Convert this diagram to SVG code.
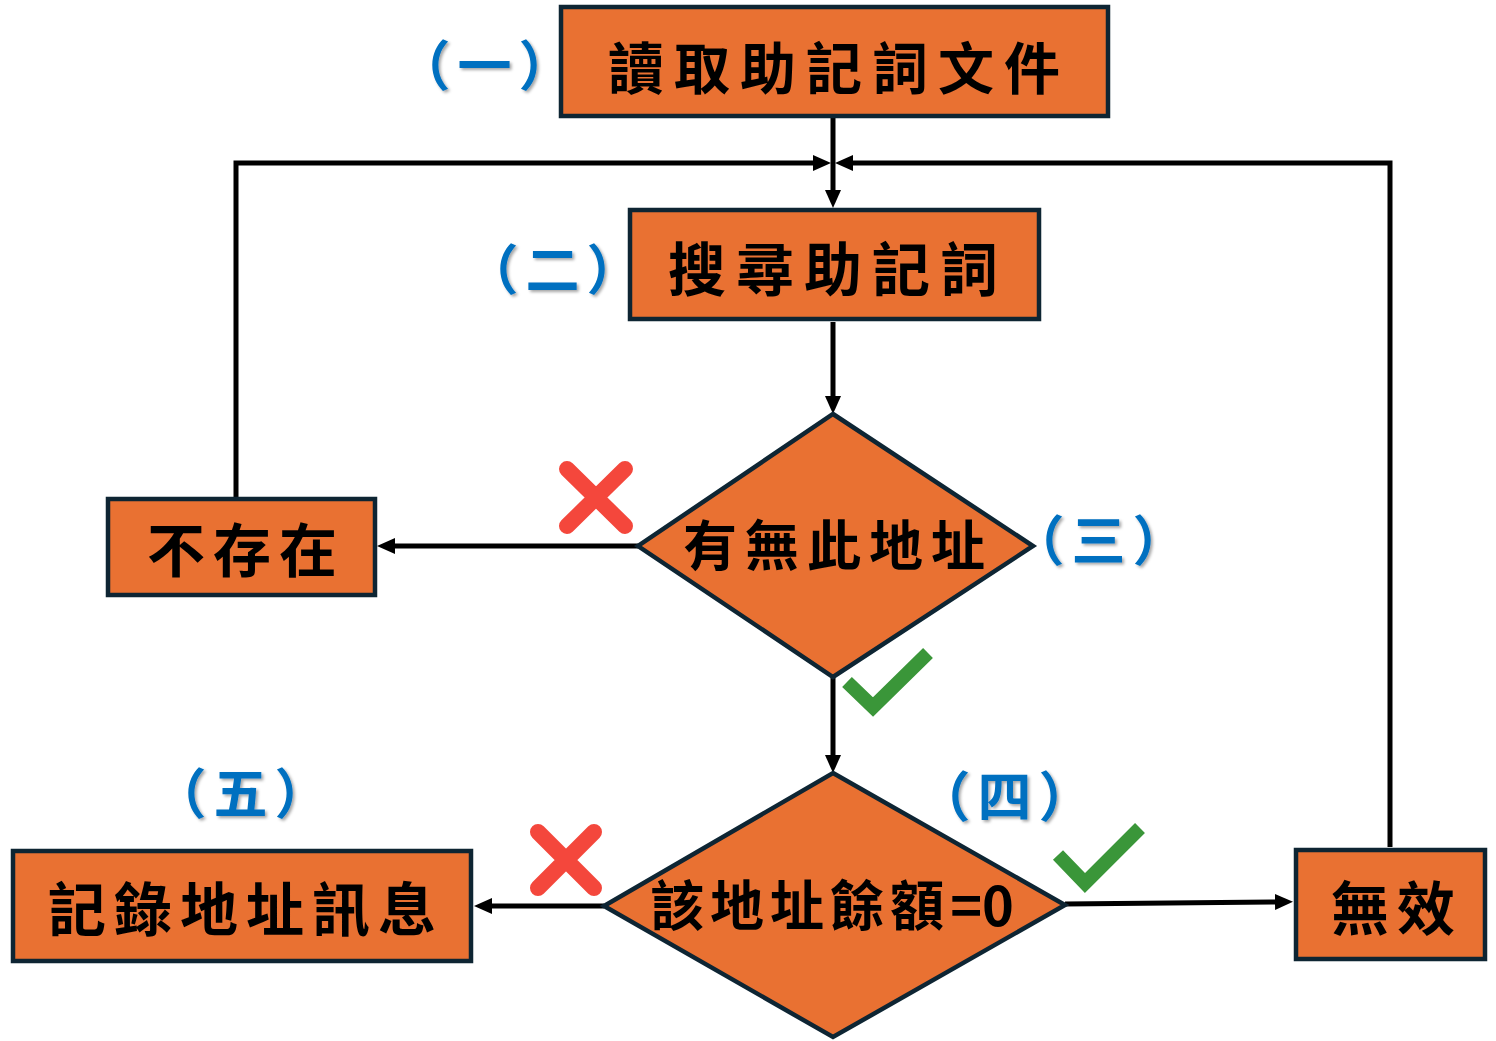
<svg xmlns="http://www.w3.org/2000/svg" width="1496" height="1041" viewBox="0 0 1496 1041">
<style>
.box{fill:#E97132;stroke:#0E2533;stroke-width:4.5}
.t{font-family:"Noto Sans CJK TC","Noto Sans CJK SC",sans-serif;font-weight:bold;fill:#000;text-anchor:middle;dominant-baseline:central}
.lbl{font-family:"Noto Sans CJK TC","Noto Sans CJK SC",sans-serif;font-weight:bold;fill:#0070C0;text-anchor:middle;dominant-baseline:central;font-size:54px;letter-spacing:7px}
.con{fill:none;stroke:#000;stroke-width:5}
.x{stroke:#F4473C;stroke-width:16;stroke-linecap:round;fill:none}
.ok{stroke:#3A9639;stroke-width:14;fill:none;stroke-linejoin:miter}
</style>
<defs>
<marker id="arr" markerUnits="userSpaceOnUse" markerWidth="18" markerHeight="16" viewBox="0 0 18 16" refX="0" refY="8" orient="auto">
<path d="M0,0 L18,8 L0,16 z" fill="#000"/>
</marker>
<filter id="sh" x="-20%" y="-20%" width="140%" height="140%">
<feDropShadow dx="2" dy="2" stdDeviation="1.5" flood-color="#000" flood-opacity="0.35"/>
</filter>
</defs>
<rect width="1496" height="1041" fill="#fff"/>

<g id="connectors">
<path class="con" d="M833,118 V190" marker-end="url(#arr)"/>
<path class="con" d="M236,497 V163 H813" marker-end="url(#arr)"/>
<path class="con" d="M1390,847 V163 H853" marker-end="url(#arr)"/>
<path class="con" d="M833,322 V396" marker-end="url(#arr)"/>
<path class="con" d="M638,546 H395" marker-end="url(#arr)"/>
<path class="con" d="M833,678 V755" marker-end="url(#arr)"/>
<path class="con" d="M604,906 H492" marker-end="url(#arr)"/>
<path class="con" d="M1065,904 L1275,902" marker-end="url(#arr)"/>
</g>

<g id="n1">
<rect class="box" x="561" y="7" width="547" height="109"/>
<text class="t" x="839" y="64" font-size="56" letter-spacing="10">讀取助記詞文件</text>
</g>
<g id="n2">
<rect class="box" x="630" y="210" width="409" height="109"/>
<text class="t" x="838" y="266" font-size="58" letter-spacing="10">搜尋助記詞</text>
</g>
<g id="n3">
<polygon class="box" points="833,414 1033,546 833,677 638,546"/>
<text class="t" x="838" y="542" font-size="54" letter-spacing="8">有無此地址</text>
</g>
<g id="n4">
<rect class="box" x="108" y="499" width="267" height="96"/>
<text class="t" x="246" y="547" font-size="58" letter-spacing="8">不存在</text>
</g>
<g id="n5">
<polygon class="box" points="833,773 1065,905 833,1037 604,906"/>
<text class="t" x="832" y="902" font-size="54" letter-spacing="6">該地址餘額<tspan letter-spacing="0">=0</tspan></text>
</g>
<g id="n6">
<rect class="box" x="13" y="851" width="458" height="110"/>
<text class="t" x="246" y="906" font-size="58" letter-spacing="8">記錄地址訊息</text>
</g>
<g id="n7">
<rect class="box" x="1296" y="850" width="189" height="109"/>
<text class="t" x="1397" y="905" font-size="58" letter-spacing="8">無效</text>
</g>

<g id="labels" filter="url(#sh)">
<text class="lbl" x="488" y="62">（一）</text>
<text class="lbl" x="556" y="266">（二）</text>
<text class="lbl" x="1102" y="537">（三）</text>
<text class="lbl" x="1008" y="793">（四）</text>
<text class="lbl" x="244" y="790">（五）</text>
</g>

<g id="marks">
<path class="x" d="M567,469 L625,526 M625,469 L567,526"/>
<path class="x" d="M538,832 L594,888 M594,832 L538,888"/>
<polyline class="ok" points="847,682 873,707 928,653"/>
<polyline class="ok" points="1058,855 1085,883 1140,828"/>
</g>
</svg>
